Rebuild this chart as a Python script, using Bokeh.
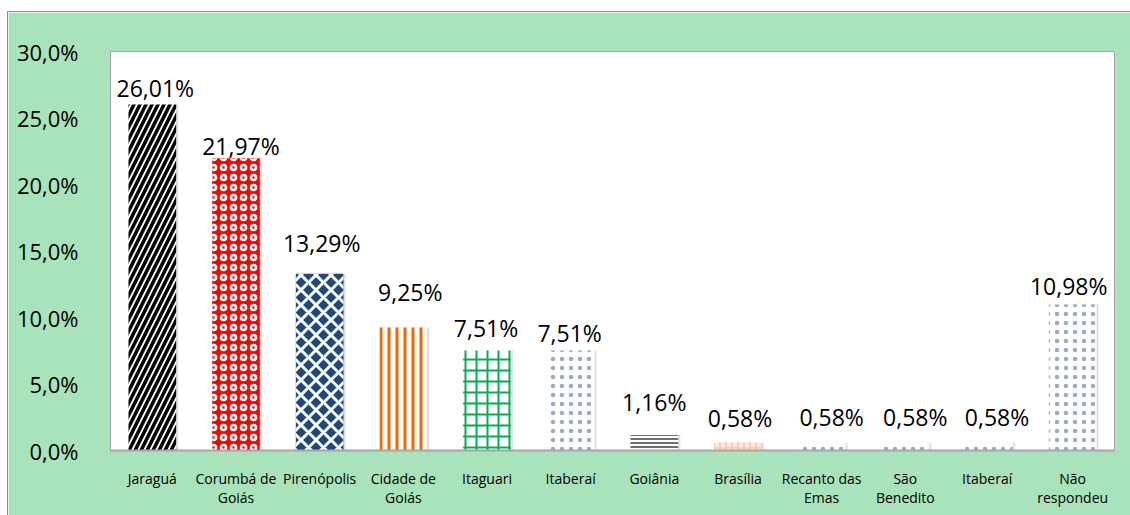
from bokeh.plotting import figure
from bokeh.models import ColumnDataSource, FixedTicker, LabelSet
from bokeh.core.properties import value
from bokeh.transform import dodge
from bokeh.embed import file_html
from bokeh.resources import INLINE

categories = ["Jaraguá", "Corumbá de\nGoiás", "Pirenópolis", "Cidade de\nGoiás", "Itaguari",
              "Itaberaí", "Goiânia", "Brasília", "Recanto das\nEmas", "São\nBenedito",
              "Itaberaí ", "Não\nrespondeu"]
values = [26.01, 21.97, 13.29, 9.25, 7.51, 7.51, 1.16, 0.58, 0.58, 0.58, 0.58, 10.98]
y_ticks = [0, 5, 10, 15, 20, 25, 30]
y_tick_labels = ["0,0%", "5,0%", "10,0%", "15,0%", "20,0%", "25,0%", "30,0%"]

# styles (per bar)
fills = ["white", "#ff0000", "#1f497d", "white", "white", "white", "white", "#fde9d9",
         "white", "white", "white", "white"]
hpat = ["/", "o", "x", "|", "+", ".", "-", "+", ".", ".", ".", "."]
hcol = ["black", "white", "white", "#e46c0a", "#00b050", "#1f497d", "#404040", "#f7b98f",
        "#1f497d", "#1f497d", "#1f497d", "#1f497d"]
hscale = [12, 10, 15, 8, 11, 9, 4, 6, 9, 9, 9, 9]
hweight = [3.5, 2.5, 3, 3, 2, 1, 1.5, 1.2, 1, 1, 1, 1]
halpha = [1, 1, 1, 1, 1, 0.45, 1, 1, 0.45, 0.45, 0.45, 0.45]
# label offsets in pixels (label placement, as moved in the original)
lab_dx = [3, 5, 2, 7, -1, -1, 0, 2, 10, 10, 8, -4]
lab_dy = [17, 12, 31, 35, 23, 18, 33, 25, 26, 26, 26, 18]

labels = [f"{v:.2f}".replace(".", ",") + "%" for v in values]

src = ColumnDataSource(dict(x=categories, top=values, lab=labels, fill=fills, hp=hpat, hc=hcol,
                            hs=hscale, hw=hweight, ha=halpha, dx=lab_dx, dy=lab_dy))

p = figure(x_range=categories, y_range=(0, 30), width=1122, height=503,
           output_backend="svg", toolbar_location=None,
           min_border_left=102, min_border_right=16, min_border_top=39, min_border_bottom=65)
p.margin = (12, 0, 0, 8)
p.styles = {"outline": "1px solid #8c8c8c"}
p.background_fill_color = "white"
p.border_fill_color = "#a8e3bb"
p.outline_line_color = "#a6a6a6"

# soft shadow
p.vbar(x=dodge("x", 0.025, range=p.x_range), top="top", width=0.57, source=src,
       fill_color="#000000", fill_alpha=0.12, line_color=None)

p.vbar(x="x", top="top", width=0.57, source=src, fill_color="fill", line_color=None,
       hatch_pattern="hp", hatch_color="hc", hatch_scale="hs", hatch_weight="hw",
       hatch_alpha="ha")

p.add_layout(LabelSet(x="x", y="top", text="lab", source=src, text_align="center",
                      text_baseline="middle", x_offset="dx", y_offset="dy",
                      text_font=value("Open Sans"), text_font_size="23px", text_color="black"))

p.xgrid.visible = False
p.ygrid.visible = False

p.yaxis.ticker = FixedTicker(ticks=y_ticks)
p.yaxis.major_label_overrides = {t: l for t, l in zip(y_ticks, y_tick_labels)}
p.yaxis.major_tick_line_color = None
p.yaxis.minor_tick_line_color = None
p.yaxis.axis_line_color = "#a6a6a6"
p.yaxis.major_label_text_font = "Open Sans"
p.yaxis.major_label_text_font_size = "22px"
p.yaxis.major_label_text_color = "black"
p.yaxis.major_label_standoff = 26

p.xaxis.major_tick_line_color = None
p.xaxis.axis_line_color = "#a6a6a6"
p.xaxis.axis_line_width = 2
p.xaxis.major_label_text_font = "Open Sans"
p.xaxis.major_label_text_font_size = "14px"
p.xaxis.major_label_text_color = "black"
p.xaxis.major_label_standoff = 12
p.xaxis.major_label_text_line_height = 1.05

p.x_range.range_padding = 0

open("out.html", "w").write(file_html(p, INLINE))
